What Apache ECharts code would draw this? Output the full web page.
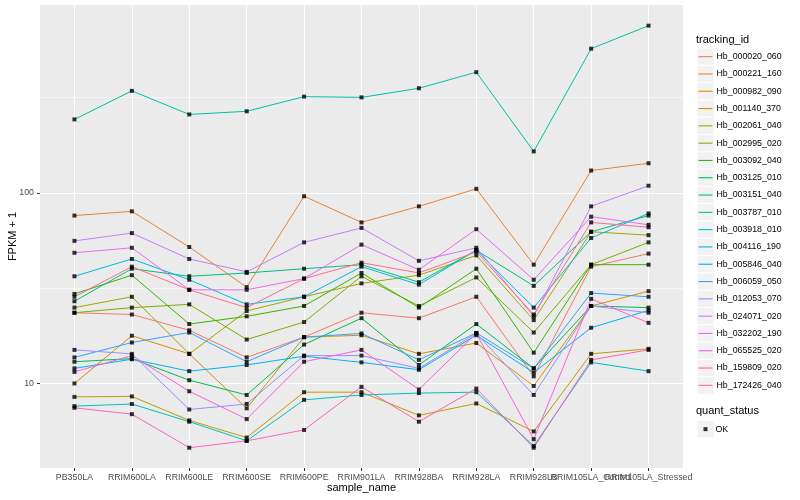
<!DOCTYPE html>
<html><head><meta charset="utf-8">
<script src="https://cdn.jsdelivr.net/npm/echarts@6/dist/echarts.min.js"></script>
<style>html,body{margin:0;padding:0;background:#fff}#c{width:800px;height:500px}</style>
</head><body><div id="c"></div>
<script>
// ---- data ----
const categories = ['PB350LA','RRIM600LA','RRIM600LE','RRIM600SE','RRIM600PE','RRIM901LA','RRIM928BA','RRIM928LA','RRIM928LB','RRIM105LA_Control','RRIM105LA_Stressed'];
const trackingIds = ['Hb_000020_060','Hb_000221_160','Hb_000982_090','Hb_001140_370','Hb_002061_040','Hb_002995_020','Hb_003092_040','Hb_003125_010','Hb_003151_040','Hb_003787_010','Hb_003918_010','Hb_004116_190','Hb_005846_040','Hb_006059_050','Hb_012053_070','Hb_024071_020','Hb_032202_190','Hb_065525_020','Hb_159809_020','Hb_172426_040'];
const Hb_000020_060 = [23.5, 23, 19, 13.7, 17.5, 23.5, 22, 28.5, 10.9, 41, 48];
const Hb_000221_160 = [76, 80, 52, 32, 96, 70, 85, 105, 42, 131, 143];
const Hb_000982_090 = [10, 17.8, 14.3, 7.4, 17.5, 17.9, 14.3, 16.3, 9.7, 25.5, 30.5];
const Hb_001140_370 = [8.5, 8.55, 6.4, 5.2, 9, 9, 6.8, 7.85, 5.6, 14.3, 15.2];
const Hb_002061_040 = [25, 28.5, 14.3, 24, 28.5, 33.5, 37, 47, 21.5, 62.5, 60];
const Hb_002995_020 = [23.5, 25, 26, 17, 21, 36.5, 25.5, 36, 18.5, 42, 55];
const Hb_003092_040 = [29.5, 37, 20.5, 22.5, 25.5, 38, 25, 40, 14.5, 42, 42];
const Hb_003125_010 = [13, 13.5, 10.4, 8.7, 16, 22, 12.5, 20.5, 12, 25.5, 25];
const Hb_003151_040 = [27, 40, 36.5, 38, 40, 42, 34, 50, 32.5, 62.5, 76];
const Hb_003787_010 = [243, 343, 258, 268, 320, 317, 354, 430, 165, 571, 754];
const Hb_003918_010 = [7.6, 7.8, 6.3, 5, 8.2, 8.7, 8.9, 9, 4.7, 12.9, 11.6];
const Hb_004116_190 = [36.5, 45, 35, 26, 28.5, 41, 33, 50, 25, 58, 78];
const Hb_005846_040 = [12, 13.4, 11.6, 12.5, 13.9, 12.9, 11.8, 17.9, 11.4, 19.6, 24.2];
const Hb_006059_050 = [13.7, 16.4, 18.5, 13, 17.5, 18.3, 13.3, 18.4, 12, 29.8, 28.5];
const Hb_012053_070 = [15, 14.3, 7.3, 7.8, 14, 14, 12, 18.3, 8.7, 25.5, 23.5];
const Hb_024071_020 = [56, 61.5, 45, 38.5, 55, 65.5, 44, 51.5, 22.5, 85, 109];
const Hb_032202_190 = [48.5, 51.5, 31, 31, 35.5, 53.5, 39.5, 64.5, 35, 75, 68];
const Hb_065525_020 = [11.5, 14, 9.1, 6.5, 13, 15, 9.3, 18.3, 5.1, 27.8, 20.8];
const Hb_159809_020 = [7.45, 6.9, 4.6, 5, 5.7, 9.6, 6.3, 9.4, 4.6, 13.3, 15];
const Hb_172426_040 = [28.5, 41, 31, 25, 35.5, 43, 38, 49, 23, 70, 66];
const quantStatus = ['OK'];
const yTickValues = [10, 100];
const yMinorGridValues = [31.62, 316.2];
const xTickValues = categories.map((c, i) => i);

const seriesValues = [Hb_000020_060, Hb_000221_160, Hb_000982_090, Hb_001140_370, Hb_002061_040, Hb_002995_020, Hb_003092_040, Hb_003125_010, Hb_003151_040, Hb_003787_010, Hb_003918_010, Hb_004116_190, Hb_005846_040, Hb_006059_050, Hb_012053_070, Hb_024071_020, Hb_032202_190, Hb_065525_020, Hb_159809_020, Hb_172426_040];

// ---- style ----
const palette = ['#F8766D','#EA8331','#D89000','#C09B00','#A3A500','#7CAE00','#39B600','#00BB4E','#00BF7D','#00C1A3','#00BFC4','#00BAE0','#00B0F6','#35A2FF','#9590FF','#C77CFF','#E76BF3','#FA62DB','#FF62BC','#FF6C91'];
const FONT = 'Liberation Sans, Arial, sans-serif';
const keyTop = 48, keyStep = 17.3, keyLeft = 697;
const X_MIN = -0.6, X_MAX = 10.6;
// label positions: categories plus an empty label at the right edge (keeps all category labels visible)
const xLabelValues = xTickValues.concat([X_MAX]);

const chart = echarts.init(document.getElementById('c'), null, {renderer: 'canvas'});

const lineSeries = trackingIds.map((id, i) => ({
  name: id, type: 'line', silent: true,
  data: seriesValues[i].map((v, j) => [j, v]),
  symbol: 'none', showSymbol: false,
  lineStyle: {width: 1, color: palette[i]},
  itemStyle: {color: palette[i]},
  z: 3
}));
lineSeries[0].markLine = {
  silent: true, symbol: 'none', z: 1, animation: false,
  label: {show: false},
  lineStyle: {color: '#ffffff', width: 0.55, type: 'solid'},
  data: yMinorGridValues.map(v => ({yAxis: v}))
};

const points = [];
seriesValues.forEach(arr => arr.forEach((v, j) => points.push([j, v])));

const graphics = trackingIds.map((id, i) => ({
  type: 'rect', z: 1, silent: true,
  shape: {x: keyLeft, y: keyTop + i * keyStep, width: keyStep, height: keyStep},
  style: {fill: '#F2F2F2', stroke: '#ffffff', lineWidth: 1}
}));
graphics.push({
  type: 'rect', z: 1, silent: true,
  shape: {x: keyLeft, y: 420.5, width: keyStep, height: keyStep},
  style: {fill: '#F2F2F2', stroke: '#ffffff', lineWidth: 1}
});

chart.setOption({
  animation: false,
  textStyle: {fontFamily: FONT},
  color: palette,
  grid: {left: 40, right: 117, top: 5, bottom: 32, show: true, backgroundColor: '#EBEBEB', borderWidth: 0, containLabel: false, outerBoundsMode: 'none'},
  title: [
    {text: 'tracking_id', left: 696, top: 34, padding: 0, textStyle: {fontFamily: FONT, fontSize: 11, fontWeight: 'normal', color: '#000'}},
    {text: 'quant_status', left: 696, top: 405, padding: 0, textStyle: {fontFamily: FONT, fontSize: 11, fontWeight: 'normal', color: '#000'}}
  ],
  legend: [
    {data: trackingIds, orient: 'vertical', left: 698.5, top: keyTop, padding: 0,
     icon: 'rect', itemWidth: 14, itemHeight: 1.1, itemGap: 0, selectedMode: false,
     textStyle: {fontFamily: FONT, fontSize: 8.8, color: '#000', lineHeight: keyStep, height: keyStep, padding: [0, 0, 0, -1]}},
    {data: quantStatus, orient: 'vertical', left: 703.5, top: 420.5, padding: 0,
     icon: 'rect', itemWidth: 4, itemHeight: 4, itemGap: 0, selectedMode: false,
     itemStyle: {color: '#000'},
     textStyle: {fontFamily: FONT, fontSize: 8.8, color: '#000', lineHeight: keyStep, height: keyStep, padding: [0, 0, 0, 3]}}
  ],
  graphic: graphics,
  xAxis: {
    type: 'value', min: X_MIN, max: X_MAX,
    axisLine: {show: false, onZero: false},
    axisTick: {show: true, customValues: xTickValues, length: 3, lineStyle: {color: '#333333'}},
    axisLabel: {customValues: xLabelValues, formatter: v => (categories[Math.round(v)] || ''), color: '#4D4D4D', fontSize: 8.8, margin: 5, fontFamily: FONT, hideOverlap: false},
    splitLine: {show: true, lineStyle: {color: '#ffffff', width: 1.1}},
    name: 'sample_name', nameLocation: 'middle', nameGap: 14, nameMoveOverlap: false,
    nameTextStyle: {color: '#000', fontSize: 11, fontFamily: FONT, verticalAlign: 'top'}
  },
  yAxis: {
    type: 'log', logBase: 10, min: 3.6, max: 968,
    axisLine: {show: false, onZero: false},
    axisTick: {show: true, customValues: yTickValues, length: 3, lineStyle: {color: '#333333'}},
    axisLabel: {customValues: yTickValues, color: '#4D4D4D', fontSize: 8.8, margin: 6, fontFamily: FONT},
    splitLine: {show: true, lineStyle: {color: '#ffffff', width: 1.1}},
    minorSplitLine: {show: false},
    name: 'FPKM + 1', nameLocation: 'middle', nameGap: 22, nameRotate: 90, nameMoveOverlap: false,
    nameTextStyle: {color: '#000', fontSize: 11, fontFamily: FONT, verticalAlign: 'bottom'}
  },
  series: lineSeries.concat([{
    name: 'OK', type: 'scatter', silent: true,
    data: points, symbol: 'rect', symbolSize: 4,
    itemStyle: {color: '#000000'}, z: 4
  }])
});
</script></body></html>
